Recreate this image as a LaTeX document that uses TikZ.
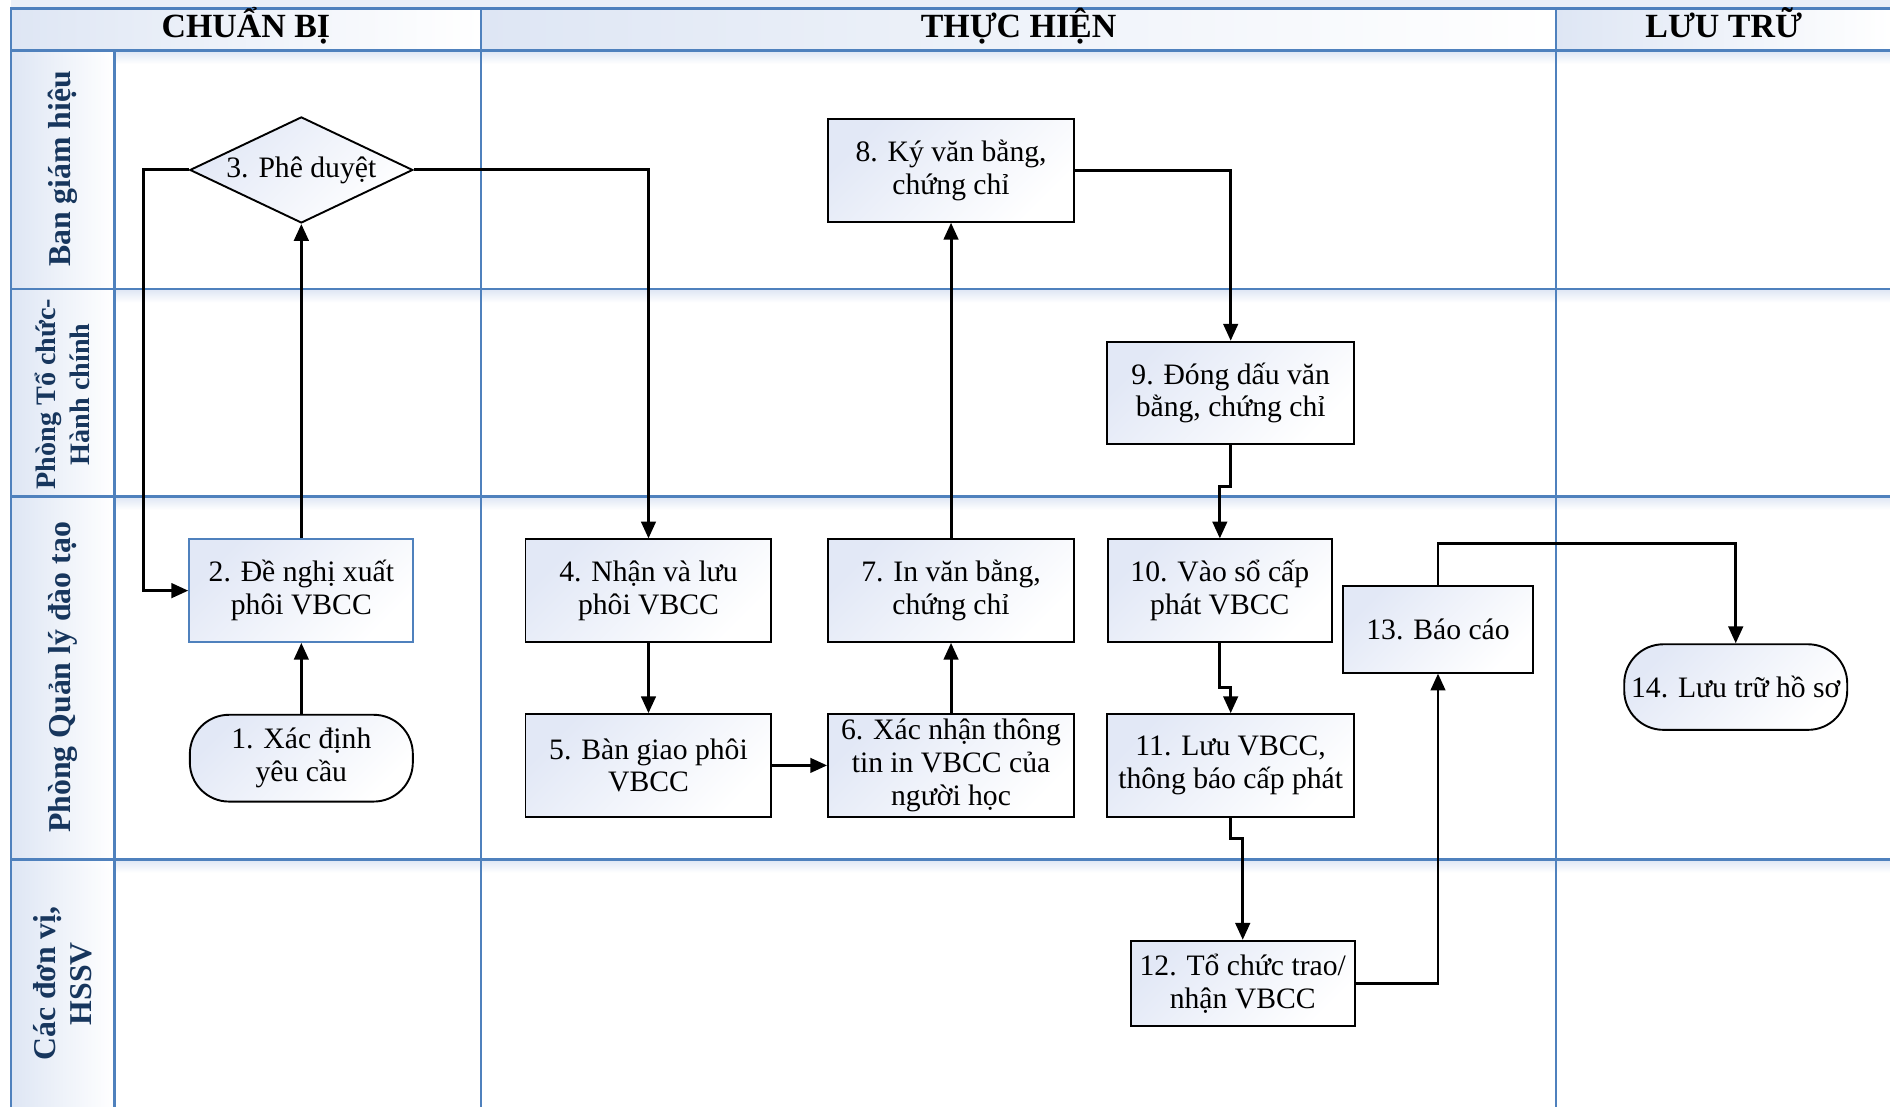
\documentclass[tikz,border=0pt]{standalone}
\usepackage{fontspec}
\setmainfont{Liberation Serif}
\usepackage{xcolor}
\usepackage{tikz}
\usetikzlibrary{shapes.geometric, arrows.meta, positioning}

\definecolor{laneline}{RGB}{79,129,189}
\definecolor{lanetext}{RGB}{23,54,93}
\definecolor{cellfill}{RGB}{222,230,244}
\definecolor{boxfill}{RGB}{226,232,246}

\begin{document}
\begin{tikzpicture}[
    lane/.style={draw=laneline, line width=1.1pt},
    cell/.style={left color=cellfill, right color=white},
    header/.style={anchor=base, font=\fontsize{16}{19}\selectfont\bfseries},
    lanelabel/.style={rotate=90, align=center, text=lanetext, font=\fontsize{15}{17}\selectfont\bfseries},
    stepbox/.style={rectangle, draw=black, line width=0.9pt, top color=boxfill, bottom color=white, shading angle=45, align=center, inner sep=1pt, minimum width=4.08cm, minimum height=1.7cm, font=\fontsize{14}{15.5}\selectfont},
    terminal/.style={stepbox, rounded corners=0.65cm, minimum width=3.7cm, minimum height=1.44cm},
    decision/.style={diamond, aspect=2.1, draw=black, line width=0.9pt, top color=boxfill, bottom color=white, shading angle=45, inner sep=0pt, minimum width=3.7cm, minimum height=1.76cm, font=\fontsize{14}{15.5}\selectfont},
    arrow/.style={draw=black, line width=1.4pt, -{Triangle[length=2.8mm, width=2.4mm]}}]

    \useasboundingbox (0,0) rectangle (31.36,-18.36);

    % Lanes
    \fill[cellfill!60] (0.18,0) rectangle (31.36,-0.14);
    \shade[cell] (0.18,-0.14) rectangle (7.98,-0.84);
    \shade[cell] (7.98,-0.14) rectangle (25.82,-0.84);
    \shade[cell] (25.82,-0.14) rectangle (31.36,-0.84);
    \shade[cell] (0.18,-0.84) rectangle (1.9,-18.36);
    \foreach \y in {-0.84,-4.8,-8.24,-14.26}
        \shade[top color=cellfill, bottom color=white] (1.9,\y) rectangle (31.36,\y-0.22);
    \draw[lane] (0.18,-18.36) -- (0.18,-0.14) -- (31.36,-0.14);
    \foreach \y in {-0.84,-4.8,-8.24,-14.26}
        \draw[lane] (0.18,\y) -- (31.36,\y);
    \draw[lane] (1.9,-0.84) -- (1.9,-18.36);
    \draw[lane] (7.98,-0.14) -- (7.98,-18.36);
    \draw[lane] (25.82,-0.14) -- (25.82,-18.36);

    \node[header] at (4.08,-0.62) (hchuanbi) {CHUẨN BỊ};
    \node[header] at (16.9,-0.62) (hthuchien) {THỰC HIỆN};
    \node[header] at (28.6,-0.62) (hluutru) {LƯU TRỮ};

    \node[lanelabel] at (1.04,-2.8) (bgh) {Ban giám hiệu};
    \node[lanelabel, font=\fontsize{13.3}{16}\selectfont\bfseries] at (1.04,-6.54) (tchc) {Phòng Tổ chức-\\Hành chính};
    \node[lanelabel] at (1.04,-11.24) (qldt) {Phòng Quản lý đào tạo};
    \node[lanelabel] at (1.04,-16.32) (hssv) {Các đơn vị,\\HSSV};

    % Steps
    \node[terminal] at (5.0,-12.58) (xacdinh) {1. Xác định\\yêu cầu};
    \node[stepbox, draw=laneline, minimum width=3.72cm] at (5.0,-9.8) (denghi) {2. Đề nghị xuất\\phôi VBCC};
    \node[decision] at (5.0,-2.82) (pheduyet) {3. Phê duyệt};
    \node[stepbox] at (10.76,-9.8) (nhan) {4. Nhận và lưu\\phôi VBCC};
    \node[stepbox] at (10.76,-12.7) (bangiao) {5. Bàn giao phôi\\VBCC};
    \node[stepbox] at (15.78,-12.7) (xacnhan) {6. Xác nhận thông\\tin in VBCC của\\người học};
    \node[stepbox] at (15.78,-9.8) (inbang) {7. In văn bằng,\\chứng chỉ};
    \node[stepbox] at (15.78,-2.83) (ky) {8. Ký văn bằng,\\chứng chỉ};
    \node[stepbox, minimum width=4.1cm] at (20.42,-6.52) (dongdau) {9. Đóng dấu văn\\bằng, chứng chỉ};
    \node[stepbox, minimum width=3.72cm] at (20.24,-9.8) (vaoso) {10. Vào sổ cấp\\phát VBCC};
    \node[stepbox, minimum width=4.1cm] at (20.42,-12.7) (luu) {11. Lưu VBCC,\\thông báo cấp phát};
    \node[stepbox, minimum width=3.72cm, minimum height=1.42cm] at (20.62,-16.32) (trao) {12. Tổ chức trao/\\nhận VBCC};
    \node[stepbox, minimum width=3.16cm, minimum height=1.44cm] at (23.86,-10.44) (baocao) {13. Báo cáo};
    \node[terminal, minimum height=1.42cm] at (28.8,-11.4) (luutru) {14. Lưu trữ hồ sơ};

    % Flow Arrows
    \draw[arrow] (xacdinh) -- (denghi);
    \draw[arrow] (denghi) -- (pheduyet);
    \draw[arrow] (pheduyet.west) -- ++(-0.76,0) |- (denghi.west);
    \draw[arrow] (pheduyet.east) -| (nhan.north);
    \draw[arrow] (nhan) -- (bangiao);
    \draw[arrow] (bangiao) -- (xacnhan);
    \draw[arrow] (xacnhan) -- (inbang);
    \draw[arrow] (inbang) -- (ky);
    \draw[arrow] (ky.east) -| (dongdau.north);
    \draw[arrow] (dongdau.south) -- ++(0,-0.68) -| (vaoso.north);
    \draw[arrow] (vaoso.south) -- ++(0,-0.74) -| (luu.north);
    \draw[arrow] (luu.south) -- ++(0,-0.34) -| (trao.north);
    \draw[arrow] (trao.east) -| (baocao.south);
    \draw[arrow] (baocao.north) -- ++(0,0.68) -| (luutru.north);

\end{tikzpicture}
\end{document}
